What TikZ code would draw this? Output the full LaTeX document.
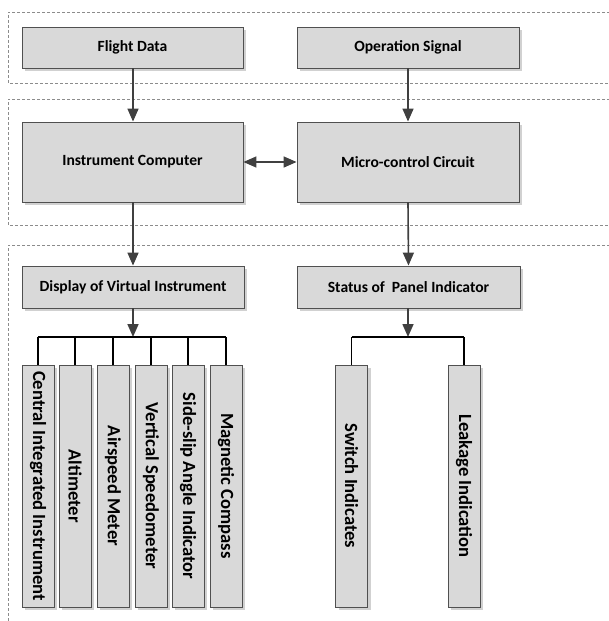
\documentclass[tikz,border=0pt]{standalone}
\usepackage{fontspec}
\setmainfont{Carlito}
\usetikzlibrary{arrows.meta,shadows}
\definecolor{boxfill}{HTML}{D9D9D9}
\definecolor{boxline}{HTML}{505050}
\definecolor{arr}{HTML}{404040}
\definecolor{dash}{HTML}{8C8C8C}
\begin{document}
\begin{tikzpicture}[x=1pt,y=-1pt,
  blk/.style={draw=boxline,line width=0.9pt,fill=boxfill,inner sep=0pt,
    font=\fontsize{15.6}{17}\selectfont\bfseries,
    drop shadow={shadow xshift=3pt,shadow yshift=-3pt,fill=black!18,opacity=1}},
  vblk/.style={blk,minimum width=32pt,minimum height=242pt,font=\fontsize{18.6}{20}\selectfont\bfseries},
  grp/.style={draw=dash,line width=0.8pt,dash pattern=on 3pt off 2pt},
  flow/.style={draw=arr,line width=1.6pt,-{Triangle[length=13pt,width=11pt]}},
  bus/.style={draw=black,line width=1.1pt}]
\useasboundingbox (0,0) rectangle (609,621);
% dashed groups
\draw[grp] (615,12) -- (8,12) -- (8,83) -- (615,83);
\draw[grp] (615,99) -- (8,99) -- (8,225) -- (615,225);
\draw[grp] (615,245) -- (8,245) -- (8,630);
% top row
\node[blk,minimum width=221pt,minimum height=41pt] (fd) at (132.5,47.5) {Flight Data};
\node[blk,minimum width=222pt,minimum height=41pt] (os) at (408,47.5) {Operation Signal};
% middle row
\node[blk,minimum width=221pt,minimum height=80pt] (ic) at (132.5,162) {Instrument Computer};
\node[blk,minimum width=222pt,minimum height=80pt] (mc) at (408,162) {Micro-control Circuit};
% third row
\node[blk,minimum width=222pt,minimum height=42pt] (dv) at (133,287) {Display of Virtual Instrument};
\node[blk,minimum width=223pt,minimum height=42pt] (sp) at (408.5,287) {Status of\ \ Panel Indicator};
% vertical boxes
\node[vblk] (v1) at (38,486) {\rotatebox{-90}{Central Integrated Instrument}};
\node[vblk] (v2) at (75,486) {\rotatebox{-90}{Altimeter}};
\node[vblk] (v3) at (113,486) {\rotatebox{-90}{Airspeed Meter}};
\node[vblk] (v4) at (151,486) {\rotatebox{-90}{Vertical Speedometer}};
\node[vblk] (v5) at (188,486) {\rotatebox{-90}{Side-slip Angle Indicator}};
\node[vblk] (v6) at (226,486) {\rotatebox{-90}{Magnetic Compass}};
\node[vblk] (s1) at (351.5,486) {\rotatebox{-90}{Switch Indicates}};
\node[vblk] (s2) at (464,486) {\rotatebox{-90}{Leakage Indication}};
% bus coordinates
\coordinate (b1) at (133,337);
\coordinate (b2) at (408,337);
% arrows
\draw[flow] (fd.south -| 133,0) -- (ic.north -| 133,0);
\draw[flow] (os.south) -- (mc.north);
\draw[flow] (ic.south -| 133,0) -- (dv.north -| 133,0);
\draw[flow] (mc.south) -- (sp.north);
\draw[draw=arr,line width=1.6pt,{Triangle[length=13pt,width=11pt]}-{Triangle[length=13pt,width=11pt]}] (ic.east) -- (mc.west);
\draw[flow] (dv.south -| b1) -- (b1);
\draw[flow] (sp.south -| b2) -- (b2);
% buses
\draw[bus] (v1.north |- b1) -- (v6.north |- b1);
\foreach \n in {v1,v2,v3,v4,v5,v6}{\draw[bus] (\n.north |- b1) -- (\n.north);}
\draw[bus] (s1.north |- b2) -- (s2.north |- b2);
\foreach \n in {s1,s2}{\draw[bus] (\n.north |- b2) -- (\n.north);}
\end{tikzpicture}
\end{document}
